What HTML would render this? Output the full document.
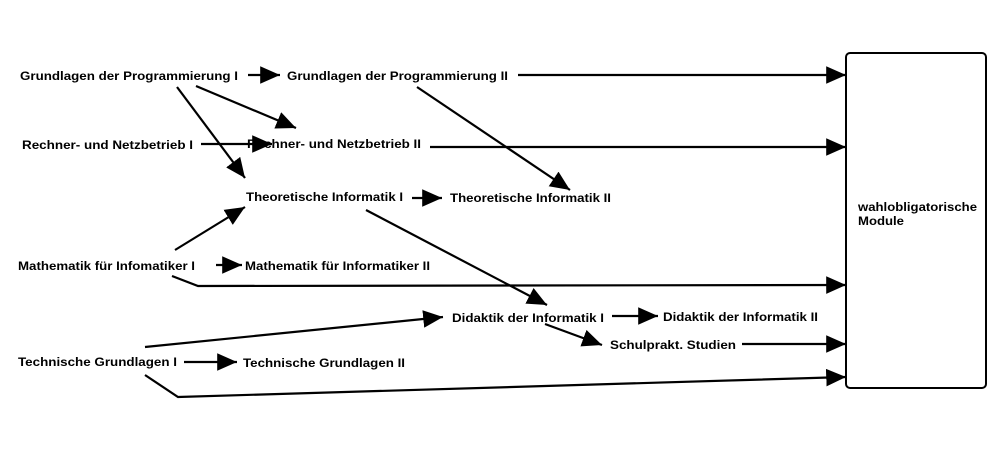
<!DOCTYPE html>
<html><head><meta charset="utf-8"><style>html,body{margin:0;padding:0;background:#fff}svg{display:block}</style></head><body>
<svg width="1000" height="450" viewBox="0 0 1000 450" xmlns="http://www.w3.org/2000/svg">
<defs><marker id="a" markerWidth="9" markerHeight="8" refX="9" refY="4" orient="auto" markerUnits="strokeWidth"><path d="M0,0 L9,4 L0,8 Z" fill="#000"/></marker></defs>
<g stroke="#000" stroke-width="2.2" fill="none" marker-end="url(#a)">
<line x1="248" y1="75" x2="280" y2="75"/>
<line x1="518" y1="75" x2="846" y2="75"/>
<line x1="196" y1="86" x2="296" y2="128"/>
<line x1="177" y1="87" x2="245" y2="178"/>
<line x1="201" y1="144" x2="272" y2="144"/>
<line x1="430" y1="147" x2="846" y2="147"/>
<line x1="417" y1="87" x2="570" y2="190"/>
<line x1="412" y1="198" x2="442" y2="198"/>
<line x1="366" y1="210" x2="547" y2="305"/>
<line x1="175" y1="250" x2="245" y2="207"/>
<line x1="216" y1="265" x2="242" y2="265"/>
<polyline points="172,276 198,286 846,285"/>
<line x1="145" y1="347" x2="443" y2="317"/>
<line x1="612" y1="316" x2="658" y2="316"/>
<line x1="545" y1="324" x2="602" y2="345"/>
<line x1="742" y1="344" x2="846" y2="344"/>
<line x1="184" y1="362" x2="237" y2="362"/>
<polyline points="145,375 178,397 846,377"/>
</g>
<rect x="846" y="53" width="140" height="335" rx="4" fill="#fff" stroke="#000" stroke-width="2"/>
<g font-family="Liberation Sans, sans-serif" font-size="12" font-weight="bold" fill="#000" lengthAdjust="spacingAndGlyphs">
<text x="20" y="80" textLength="218" lengthAdjust="spacingAndGlyphs">Grundlagen der Programmierung I</text>
<text x="287" y="80" textLength="221" lengthAdjust="spacingAndGlyphs">Grundlagen der Programmierung II</text>
<text x="22" y="149" textLength="171" lengthAdjust="spacingAndGlyphs">Rechner- und Netzbetrieb I</text>
<text x="247" y="148" textLength="174" lengthAdjust="spacingAndGlyphs">Rechner- und Netzbetrieb II</text>
<text x="246" y="201" textLength="157" lengthAdjust="spacingAndGlyphs">Theoretische Informatik I</text>
<text x="450" y="202" textLength="161" lengthAdjust="spacingAndGlyphs">Theoretische Informatik II</text>
<text x="18" y="270" textLength="177" lengthAdjust="spacingAndGlyphs">Mathematik für Infomatiker I</text>
<text x="245" y="270" textLength="185" lengthAdjust="spacingAndGlyphs">Mathematik für Informatiker II</text>
<text x="452" y="322" textLength="152" lengthAdjust="spacingAndGlyphs">Didaktik der Informatik I</text>
<text x="663" y="321" textLength="155" lengthAdjust="spacingAndGlyphs">Didaktik der Informatik II</text>
<text x="610" y="349" textLength="126" lengthAdjust="spacingAndGlyphs">Schulprakt. Studien</text>
<text x="18" y="366" textLength="159" lengthAdjust="spacingAndGlyphs">Technische Grundlagen I</text>
<text x="243" y="367" textLength="162" lengthAdjust="spacingAndGlyphs">Technische Grundlagen II</text>
<text x="858" y="211" textLength="119" lengthAdjust="spacingAndGlyphs">wahlobligatorische</text>
<text x="858" y="225" textLength="46" lengthAdjust="spacingAndGlyphs">Module</text>
</g>
</svg>
</body></html>
